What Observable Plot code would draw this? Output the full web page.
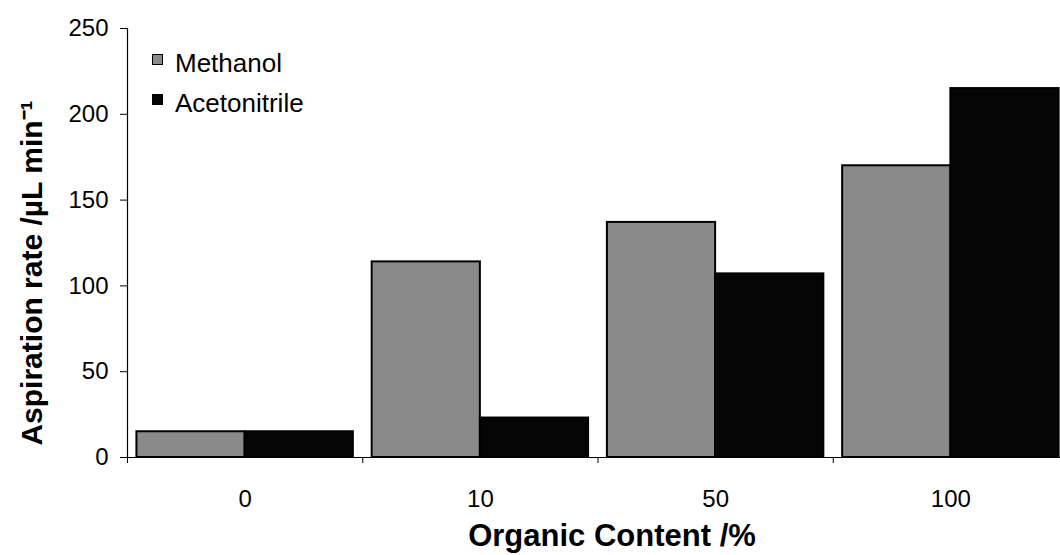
<!DOCTYPE html>
<html><head><meta charset="utf-8">
<script src="https://cdn.jsdelivr.net/npm/d3@7"></script>
<script src="https://cdn.jsdelivr.net/npm/@observablehq/plot@0.6"></script>
<style>
body{margin:0;background:#fff;overflow:hidden;}
#wrap{position:relative;width:1060px;height:555px;overflow:hidden;font-family:"Liberation Sans",Arial,sans-serif;color:#000;}
.lg{position:absolute;left:152px;font-size:26px;line-height:25px;white-space:nowrap;}
.lg .sw{position:absolute;left:0;width:9px;height:9px;border:1.5px solid #000;}
.lg .tx{position:absolute;left:23px;top:0;}
</style></head><body><div id="wrap"></div>
<script>
const categories = ["0", "10", "50", "100"];
const seriesNames = ["Methanol", "Acetonitrile"];
const methanol = [15, 114, 137, 170];
const acetonitrile = [15, 23, 107, 215];
const yTicks = [0, 50, 100, 150, 200, 250];
const seriesColors = ["#8a8a8a", "#050505"];
const xTitle = "Organic Content /%";
const yTitle = "Aspiration rate /µL min⁻¹";

const seriesValues = [methanol, acetonitrile];
const rows = [];
categories.forEach((c, i) => {
  seriesNames.forEach((s, k) => rows.push({cat: c, i, k, series: s, value: seriesValues[k][i]}));
});

const pad = 0.04, w = (1 - 2 * pad) / seriesNames.length;
const font = '"Liberation Sans", Arial, sans-serif';

const chart = Plot.plot({
  width: 1060, height: 555,
  marginLeft: 127, marginRight: -8, marginTop: 28, marginBottom: 98,
  style: {fontFamily: font, fontSize: "24px", color: "#000", background: "transparent", overflow: "visible"},
  x: {domain: [0, categories.length], axis: null},
  y: {domain: [0, 250], axis: null},
  color: {domain: seriesNames, range: seriesColors},
  marks: [
    Plot.rectY(rows, {
      x1: d => d.i + pad + d.k * w,
      x2: d => d.i + pad + (d.k + 1) * w,
      y1: 0, y2: "value",
      fill: "series", stroke: "#000", strokeWidth: 2
    }),
    Plot.axisY({ticks: yTicks, tickSize: 7, tickPadding: 12, label: null, fontSize: 24, stroke: "#000"}),
    Plot.axisX({ticks: d3.range(categories.length + 1), tickSize: 6, tickFormat: () => "", label: null}),
    Plot.axisX({ticks: categories.map((c, i) => i + 0.5), tickSize: 0, tickPadding: 32,
      tickFormat: v => categories[Math.floor(v)], label: null, fontSize: 24}),
    Plot.ruleY([0], {stroke: "#000", strokeWidth: 1.2}),
    Plot.ruleX([0], {stroke: "#000", strokeWidth: 1.2}),
    Plot.text([yTitle], {frameAnchor: "left", textAnchor: "middle", lineAnchor: "middle", rotate: -90, dx: -95, dy: 30, fontSize: 30, fontWeight: "bold", fill: "#000"}),
    Plot.text([xTitle], {frameAnchor: "bottom", textAnchor: "middle", lineAnchor: "middle", dx: 14, dy: 79, fontSize: 31, fontWeight: "bold", fill: "#000"})
  ]
});

const wrap = document.getElementById("wrap");
wrap.appendChild(chart);
const tops = [51, 91];
seriesNames.forEach((s, k) => {
  const row = document.createElement("div");
  row.className = "lg";
  row.style.top = tops[k] + "px";
  row.innerHTML = `<span class="sw" style="background:${seriesColors[k]};top:3px"></span><span class="tx">${s}</span>`;
  wrap.appendChild(row);
});
</script>
</body></html>
